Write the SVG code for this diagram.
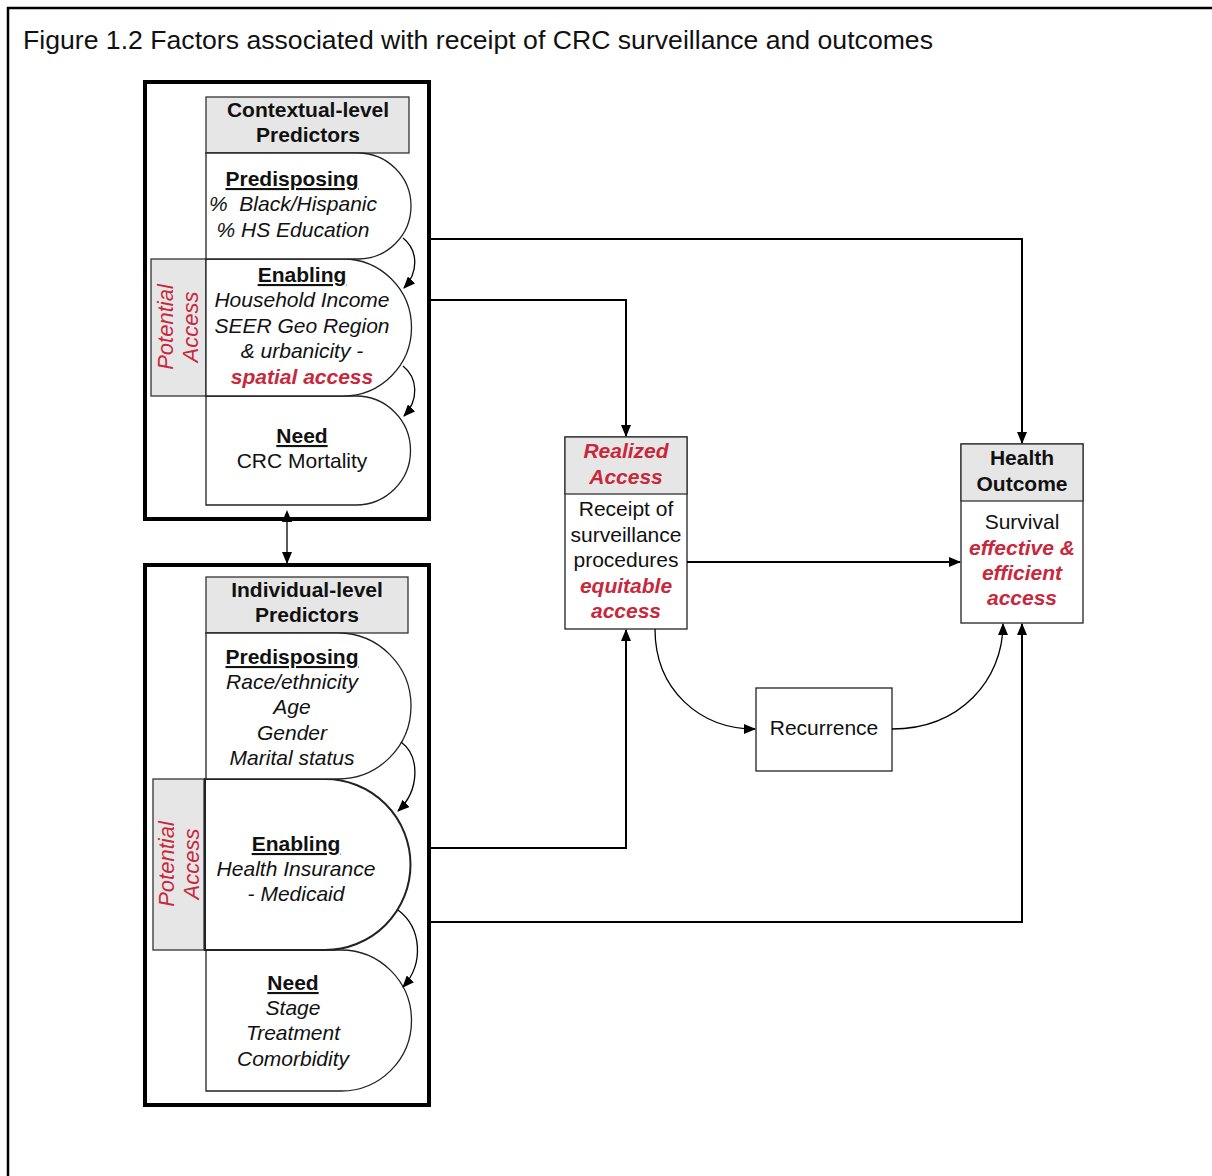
<svg xmlns="http://www.w3.org/2000/svg" width="1212" height="1176" viewBox="0 0 1212 1176">
<style>
text{font-family:"Liberation Sans",Arial,sans-serif;fill:#111;text-anchor:middle}
.b{font-weight:bold;font-size:21px}
.u{text-decoration:underline}
.i{font-style:italic;font-size:21px}
.r{font-size:21px}
.red{fill:#c8283c}
.bi{font-weight:bold;font-style:italic;font-size:21px;fill:#c8283c}
.pa{font-style:italic;font-size:22px;fill:#c8283c}
.hdr{fill:#e6e6e6;stroke:#333;stroke-width:1.3}
.sh{fill:#fff;stroke:#222;stroke-width:1.3}
.grp{fill:none;stroke:#000;stroke-width:4}
.box{fill:#fff;stroke:#222;stroke-width:1.3}
.c{fill:none;stroke:#000;stroke-width:2}
.cc{fill:none;stroke:#000;stroke-width:1.3}
</style>
<defs>
<marker id="ah" markerWidth="12" markerHeight="10" refX="11" refY="5" orient="auto" markerUnits="userSpaceOnUse"><path d="M0,0 L12,5 L0,10 Z" fill="#000"/></marker>
<marker id="as" markerWidth="12" markerHeight="10" refX="1" refY="5" orient="auto-start-reverse" markerUnits="userSpaceOnUse"><path d="M0,0 L12,5 L0,10 Z" fill="#000"/></marker>
</defs>
<rect width="1212" height="1176" fill="#fff"/>
<path d="M8 1176 V8 H1212" fill="none" stroke="#000" stroke-width="2.5"/>
<text x="23" y="49" textLength="910" lengthAdjust="spacingAndGlyphs" style="font-size:26px;text-anchor:start">Figure 1.2 Factors associated with receipt of CRC surveillance and outcomes</text>

<g id="contextual">
<rect class="grp" x="145" y="82" width="284" height="437"/>
<rect class="hdr" x="206" y="97" width="203" height="56"/>
<text class="b" x="308" y="117">Contextual-level</text>
<text class="b" x="308" y="142">Predictors</text>
<rect class="hdr" x="151" y="259" width="55" height="137"/>
<path class="sh" d="M206 396 H356 A54.5 54.5 0 0 1 356 505 H206 Z"/>
<path class="sh" d="M206 259 H343 A68.5 68.5 0 0 1 343 396 H206 Z"/>
<path class="sh" d="M206 153 H358 A53 53 0 0 1 358 259 H206 Z"/>
<text class="b u" x="292" y="186">Predisposing</text>
<text class="i" x="293" y="211" xml:space="preserve">%  Black/Hispanic</text>
<text class="i" x="293" y="237">% HS Education</text>
<text class="b u" x="302" y="282">Enabling</text>
<text class="i" x="302" y="307">Household Income</text>
<text class="i" x="302" y="333">SEER Geo Region</text>
<text class="i" x="302" y="358">&amp; urbanicity -</text>
<text class="bi" x="302" y="384">spatial access</text>
<text class="b u" x="302" y="443">Need</text>
<text class="r" x="302" y="468">CRC Mortality</text>
<text class="pa" transform="translate(173 327) rotate(-90)">Potential</text>
<text class="pa" transform="translate(198 327) rotate(-90)">Access</text>
<path class="cc" d="M403 238 C418 250 419 272 404 288" marker-end="url(#ah)"/>
<path class="cc" d="M403 366 C418 378 419 400 404 416" marker-end="url(#ah)"/>
</g>

<g id="individual">
<rect class="grp" x="145" y="565" width="284" height="540"/>
<rect class="hdr" x="206" y="577" width="202" height="56"/>
<text class="b" x="307" y="597">Individual-level</text>
<text class="b" x="307" y="622">Predictors</text>
<rect class="hdr" x="153" y="779" width="51" height="171"/>
<path class="sh" d="M206 950 H341 A70.5 70.5 0 0 1 341 1091 H206 Z"/>
<path class="sh" d="M205 779 H325 A85.5 85.5 0 0 1 325 950 H205 Z" style="stroke-width:2"/>
<path class="sh" d="M206 633 H338 A73 73 0 0 1 338 779 H206 Z"/>
<text class="b u" x="292" y="664">Predisposing</text>
<text class="i" x="292" y="689">Race/ethnicity</text>
<text class="i" x="292" y="714">Age</text>
<text class="i" x="292" y="740">Gender</text>
<text class="i" x="292" y="765">Marital status</text>
<text class="b u" x="296" y="851">Enabling</text>
<text class="i" x="296" y="876">Health Insurance</text>
<text class="i" x="296" y="901">- Medicaid</text>
<text class="b u" x="293" y="990">Need</text>
<text class="i" x="293" y="1015">Stage</text>
<text class="i" x="293" y="1040">Treatment</text>
<text class="i" x="293" y="1066">Comorbidity</text>
<text class="pa" transform="translate(174 864) rotate(-90)">Potential</text>
<text class="pa" transform="translate(199 864) rotate(-90)">Access</text>
<path class="cc" d="M401 742 C420 756 420 790 398 811" marker-end="url(#ah)"/>
<path class="cc" d="M398 910 C422 928 424 964 403 987" marker-end="url(#ah)"/>
</g>

<g id="realized">
<rect class="box" x="565" y="437" width="122" height="192"/>
<rect class="hdr" x="565" y="437" width="122" height="57"/>
<text class="bi" x="626" y="458">Realized</text>
<text class="bi" x="626" y="484">Access</text>
<text class="r" x="626" y="516">Receipt of</text>
<text class="r" x="626" y="542">surveillance</text>
<text class="r" x="626" y="567">procedures</text>
<text class="bi" x="626" y="593">equitable</text>
<text class="bi" x="626" y="618">access</text>
</g>

<g id="health">
<rect class="box" x="961" y="444" width="122" height="179"/>
<rect class="hdr" x="961" y="444" width="122" height="57"/>
<text class="b" x="1022" y="465">Health</text>
<text class="b" x="1022" y="491">Outcome</text>
<text class="r" x="1022" y="529">Survival</text>
<text class="bi" x="1022" y="555">effective &amp;</text>
<text class="bi" x="1022" y="580">efficient</text>
<text class="bi" x="1022" y="605">access</text>
</g>

<g id="recurrence">
<rect class="box" x="756" y="688" width="136" height="83"/>
<text class="r" x="824" y="735">Recurrence</text>
</g>

<g id="connectors">
<path class="c" d="M429 239 H1022 V443" marker-end="url(#ah)"/>
<path class="c" d="M429 300 H626 V436" marker-end="url(#ah)"/>
<path class="c" d="M687 562 H960" marker-end="url(#ah)"/>
<path class="c" d="M429 848 H626 V630" marker-end="url(#ah)"/>
<path class="c" d="M429 922 H1022 V624" marker-end="url(#ah)"/>
<path class="cc" d="M655 629 C655 690 700 729 755 729" marker-end="url(#ah)"/>
<path class="cc" d="M892 729 C960 729 1003 680 1003 624" marker-end="url(#ah)"/>
<path class="cc" d="M287 521 V563" marker-start="url(#as)" marker-end="url(#ah)"/>
</g>
</svg>
